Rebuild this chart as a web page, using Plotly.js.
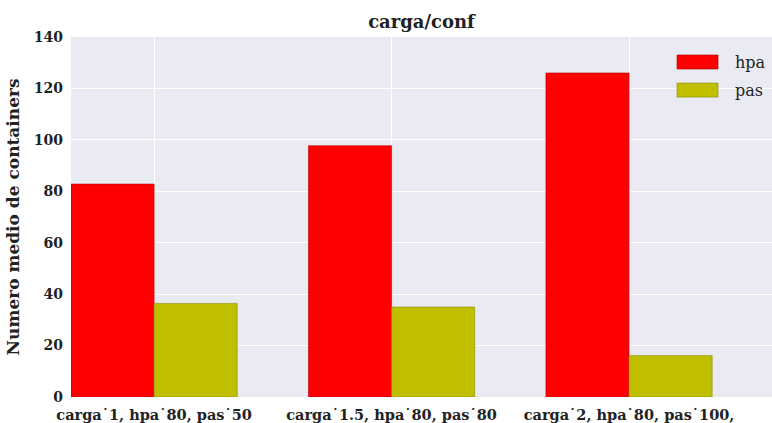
<!DOCTYPE html>
<html><head><meta charset="utf-8">
<script src="https://cdn.plot.ly/plotly-3.0.1.min.js"></script>
<style>html,body{margin:0;padding:0;background:#fff;}#c{width:772px;height:423px;}</style>
</head><body><div id="c"></div>
<script>
const categories = ["carga˙1, hpa˙80, pas˙50", "carga˙1.5, hpa˙80, pas˙80", "carga˙2, hpa˙80, pas˙100,"];
const seriesNames = ["hpa", "pas"];
const hpaValues = [82.8, 97.7, 126];
const pasValues = [36.4, 35, 16.1];
const yTicks = [0, 20, 40, 60, 80, 100, 120, 140];

const FONT = "DejaVu Serif, Liberation Serif, serif";
const pos = categories.map((_, i) => i);
const W = 0.35;
const colors = ["#ff0000", "#bfbf00"];
const edges = ["#b00000", "#8a8a00"];

const traces = [hpaValues, pasValues].map((vals, k) => ({
  type: "bar",
  name: seriesNames[k],
  x: pos.map(p => p + (k === 0 ? -W / 2 : W / 2)),
  y: vals,
  width: W,
  marker: {color: colors[k], line: {color: edges[k], width: 0.6}},
  showlegend: false,
  hoverinfo: "skip"
}));

const legShapes = [], legAnn = [];
seriesNames.forEach((n, k) => {
  const yTop = 0.95 - k * 0.078, yBot = yTop - 0.039;
  legShapes.push({type: "rect", xref: "paper", yref: "paper", x0: 0.8645, x1: 0.923, y0: yBot, y1: yTop,
    fillcolor: colors[k], line: {color: edges[k], width: 0.6}});
  legAnn.push({xref: "paper", yref: "paper", x: 0.944, y: (yTop + yBot) / 2, xanchor: "left", yanchor: "middle",
    text: n, showarrow: false, font: {family: FONT, size: 16, color: "#222"}});
});

const layout = {
  width: 772, height: 423,
  margin: {l: 71, r: 0, t: 37, b: 26, pad: 0},
  paper_bgcolor: "#ffffff",
  plot_bgcolor: "#eaeaf2",
  bargap: 0, barmode: "overlay",
  title: {text: "<b>carga/conf</b>", x: 0.546, xanchor: "center", y: 0.948, yanchor: "middle",
    font: {family: FONT, size: 18, color: "#222"}},
  xaxis: {range: [-0.35, 2.602], tickvals: pos, ticktext: categories.map(c => "<b>" + c + "</b>"),
    showgrid: true, gridcolor: "#ffffff", gridwidth: 1, zeroline: false, ticks: "", showline: false,
    ticklabelstandoff: 7,
    tickfont: {family: FONT, size: 14.5, color: "#222"}, fixedrange: true},
  yaxis: {range: [0, 140], tickvals: yTicks, ticktext: yTicks.map(v => "<b>" + v + "</b>"),
    showgrid: true, gridcolor: "#ffffff", gridwidth: 1, zeroline: false, ticks: "", showline: false,
    ticklabelstandoff: 7,
    tickfont: {family: FONT, size: 14, color: "#222"},
    title: {text: "<b>Numero medio de containers</b>", standoff: 9, font: {family: FONT, size: 17, color: "#222"}}},
  shapes: legShapes,
  annotations: legAnn
};
Plotly.newPlot("c", traces, layout, {staticPlot: true, displayModeBar: false});
</script></body></html>
